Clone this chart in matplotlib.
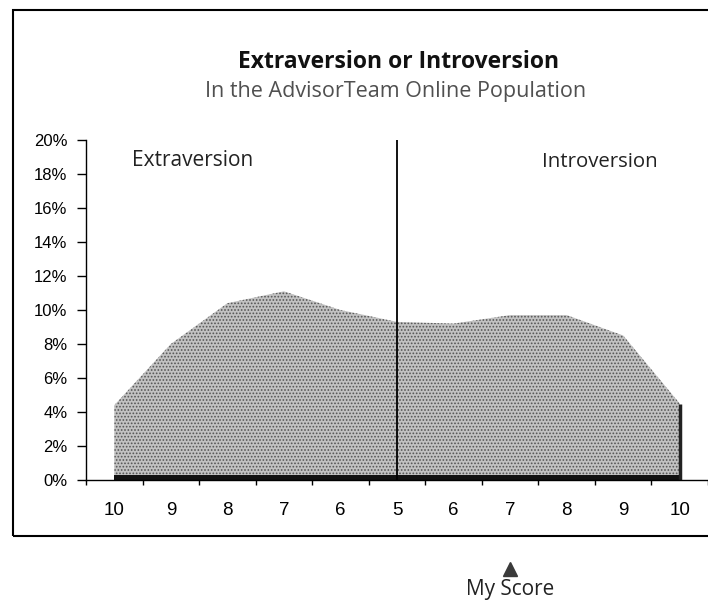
import matplotlib
matplotlib.use('Agg')
import matplotlib.pyplot as plt
from matplotlib.patches import Rectangle
from matplotlib.transforms import blended_transform_factory
import numpy as np

# ---- data ----
categories = ['10', '9', '8', '7', '6', '5', '6', '7', '8', '9', '10']
population_pct = [4.4, 8.0, 10.4, 11.1, 10.0, 9.3, 9.2, 9.7, 9.7, 8.5, 4.5]
baseline_band_pct = [0.3, 0.3, 0.3, 0.3, 0.3, 0.3, 0.3, 0.3, 0.3, 0.3, 0.3]
y_ticks = [0, 2, 4, 6, 8, 10, 12, 14, 16, 18, 20]
y_tick_labels = ['0%', '2%', '4%', '6%', '8%', '10%', '12%', '14%', '16%', '18%', '20%']
divider_index = 5
my_score_index = 7
title = 'Extraversion or Introversion'
subtitle = 'In the AdvisorTeam Online Population'
left_label = 'Extraversion'
right_label = 'Introversion'
score_label = 'My Score'

W, H = 708, 603
plt.rcParams['hatch.linewidth'] = 0.8

fig = plt.figure(figsize=(W / 100, H / 100), dpi=100)
fig.patch.set_facecolor('white')


def fx(px):
    return px / W


def fy(py):
    return 1 - py / H


ax_left, ax_right, ax_top, ax_bottom = 86, 708, 140, 480
ax = fig.add_axes([fx(ax_left), fy(ax_bottom), (ax_right - ax_left) / W, (ax_bottom - ax_top) / H])
ax.set_facecolor('none')

x = np.arange(len(categories))
ax.fill_between(x, 0, population_pct, facecolor='#c2c2c2', edgecolor='#555555',
                hatch='.....', linewidth=0, zorder=1)
ax.fill_between(x, 0, baseline_band_pct, color='#111111', linewidth=0, zorder=2)
ax.vlines(x[-1], 0, population_pct[-1], color='#222222', lw=2.5, zorder=2)
ax.axvline(divider_index, color='black', lw=1.3, zorder=3)

ax.set_xlim(-0.5, len(categories) - 0.5)
ax.set_ylim(0, 20)
for s in ['top', 'right']:
    ax.spines[s].set_visible(False)
for s in ['left', 'bottom']:
    ax.spines[s].set_linewidth(1.0)
    ax.spines[s].set_color('black')

ax.set_yticks(y_ticks)
ax.set_yticklabels(y_tick_labels, fontfamily='Liberation Sans', fontsize=12)
ax.tick_params(axis='y', length=6.5, width=1, pad=7, direction='out')

ax.set_xticks(np.arange(-0.5, len(categories), 1))
ax.set_xticklabels([])
ax.set_xticks(x, minor=True)
ax.set_xticklabels(categories, minor=True, fontfamily='Liberation Sans', fontsize=13.5)
ax.tick_params(axis='x', which='major', length=3.6, width=1, direction='out')
ax.tick_params(axis='x', which='minor', length=0, pad=16)

# outer frame
frame = Rectangle((fx(13), fy(536)), fx(760) - fx(13), (536 - 10) / H,
                  transform=fig.transFigure, fill=False, lw=1.5,
                  edgecolor='black', clip_on=False)
fig.add_artist(frame)

fam = ['Open Sans', 'DejaVu Sans']
t_title = fig.text(fx(399), fy(62), title, ha='center', va='center',
                   fontsize=16, fontweight='bold', family=fam, color='#111111')
t_sub = fig.text(fx(396), fy(91), subtitle, ha='center', va='center',
                 fontsize=14, family=fam, color='#505050')
t_left = fig.text(fx(132), fy(160), left_label, ha='left', va='center',
                  fontsize=14, family=fam, color='#222222')
t_right = fig.text(fx(542), fy(162), right_label, ha='left', va='center',
                   fontsize=14, family=fam, color='#222222')

blend = blended_transform_factory(ax.transData, ax.transAxes)
frac = lambda py: (ax_bottom - py) / (ax_bottom - ax_top)
ax.plot([my_score_index], [frac(569)], marker='^', markersize=10, color='#3a3a3a',
        transform=blend, clip_on=False, linestyle='none')
t_score = ax.text(my_score_index, frac(589), score_label, ha='center', va='center',
                  fontsize=13, family=fam, color='#222222', transform=blend)

# fit text widths to the reference
fig.canvas.draw()
renderer = fig.canvas.get_renderer()
for t, target in [(t_title, 321), (t_sub, 382), (t_left, 122), (t_right, 116), (t_score, 88)]:
    w = t.get_window_extent(renderer).width
    t.set_fontsize(t.get_fontsize() * target / w)

fig.savefig('out.png', dpi=100)
